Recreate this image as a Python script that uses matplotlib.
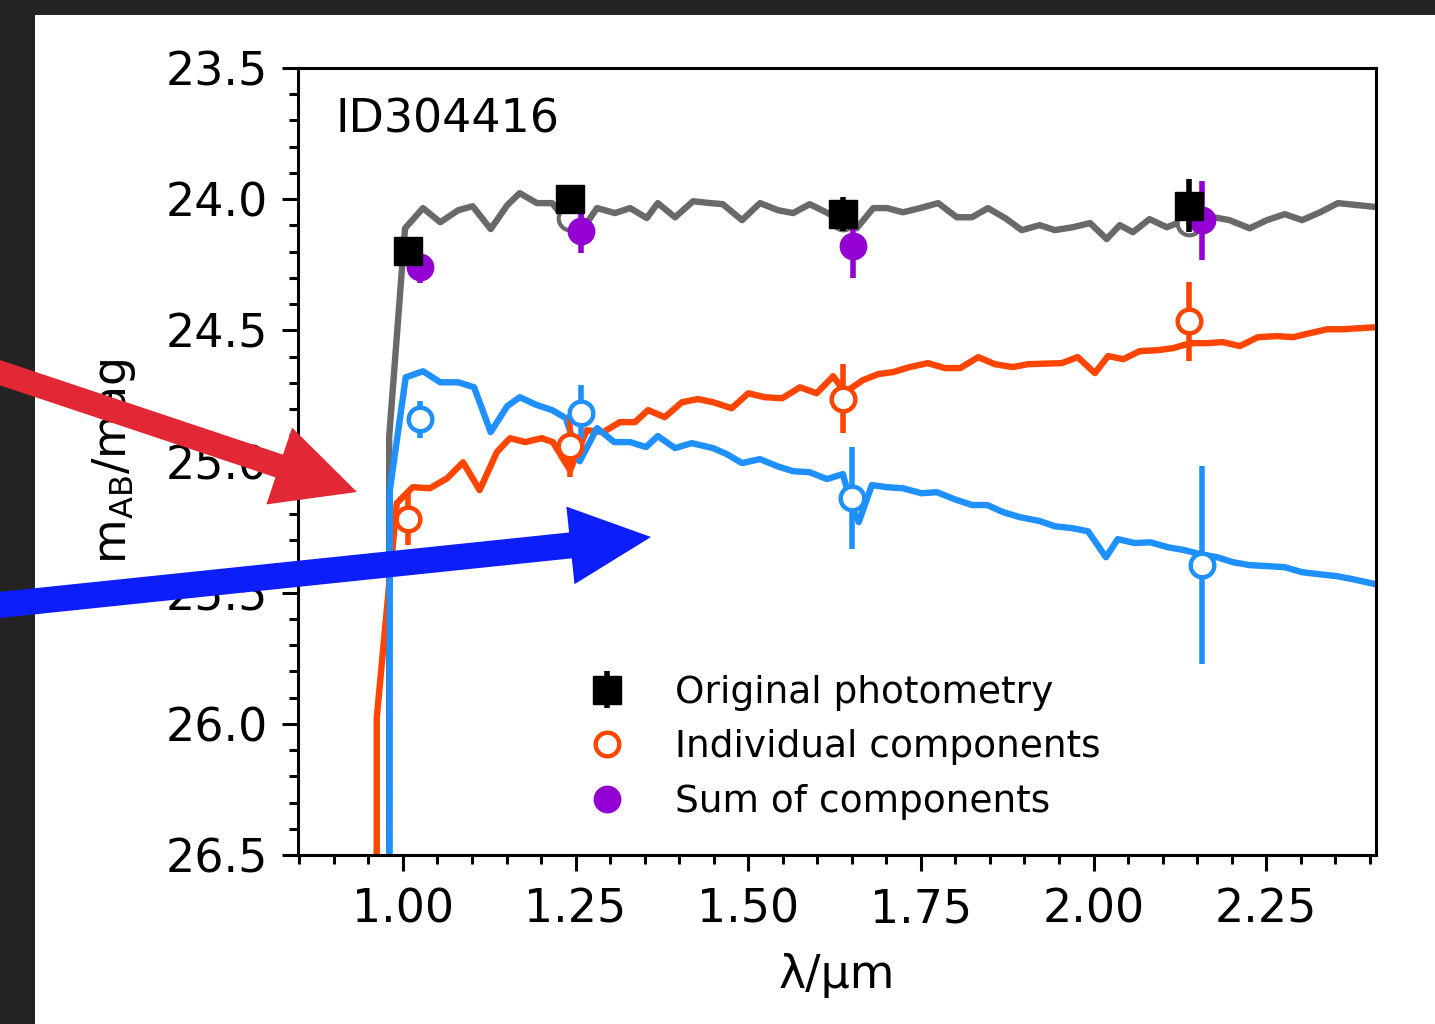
import matplotlib
matplotlib.use("Agg")
import matplotlib.pyplot as plt
from matplotlib.patches import Rectangle, FancyArrow
from matplotlib.lines import Line2D
from matplotlib.transforms import IdentityTransform

# model spectra (wavelength in micron, AB mag)
total_wl = [0.980, 0.980, 1.003, 1.029, 1.054, 1.080, 1.101, 1.127, 1.151, 1.169,
            1.194, 1.216, 1.230, 1.256, 1.281, 1.307, 1.329, 1.353, 1.369, 1.394,
            1.420, 1.445, 1.463, 1.491, 1.517, 1.543, 1.565, 1.589, 1.615, 1.657,
            1.681, 1.701, 1.724, 1.749, 1.775, 1.802, 1.824, 1.847, 1.872, 1.896,
            1.922, 1.944, 1.970, 1.995, 2.019, 2.038, 2.057, 2.081, 2.106, 2.125,
            2.147, 2.158, 2.197, 2.226, 2.251, 2.277, 2.302, 2.328, 2.354, 2.409]
total_mag = [28.0, 24.907, 24.111, 24.034, 24.088, 24.042, 24.027, 24.114, 24.023, 23.977,
             24.015, 24.015, 24.061, 24.130, 24.034, 24.053, 24.034, 24.072, 24.015, 24.069,
             24.008, 24.015, 24.019, 24.080, 24.015, 24.042, 24.053, 24.019, 24.053, 24.111,
             24.034, 24.034, 24.050, 24.034, 24.015, 24.069, 24.069, 24.034, 24.072, 24.118,
             24.099, 24.118, 24.107, 24.091, 24.152, 24.099, 24.126, 24.076, 24.107, 24.088,
             24.095, 24.061, 24.080, 24.111, 24.080, 24.057, 24.080, 24.050, 24.015, 24.030]

red_wl = [0.962, 0.962, 0.991, 1.014, 1.039, 1.064, 1.087, 1.111, 1.136, 1.155,
          1.177, 1.201, 1.217, 1.242, 1.266, 1.290, 1.314, 1.336, 1.355, 1.379,
          1.404, 1.427, 1.449, 1.476, 1.500, 1.524, 1.549, 1.575, 1.599, 1.623,
          1.640, 1.666, 1.688, 1.710, 1.734, 1.760, 1.785, 1.807, 1.833, 1.857,
          1.883, 1.905, 1.954, 1.977, 2.002, 2.021, 2.043, 2.067, 2.092, 2.115,
          2.140, 2.164, 2.187, 2.212, 2.238, 2.266, 2.289, 2.313, 2.338, 2.361, 2.409]
red_mag = [28.0, 25.978, 25.159, 25.098, 25.102, 25.064, 25.003, 25.109, 24.964, 24.911,
           24.926, 24.911, 24.926, 25.033, 24.881, 24.888, 24.850, 24.850, 24.804, 24.831,
           24.774, 24.762, 24.774, 24.797, 24.740, 24.755, 24.759, 24.717, 24.740, 24.675,
           24.736, 24.690, 24.667, 24.659, 24.640, 24.625, 24.644, 24.644, 24.602, 24.629,
           24.640, 24.629, 24.625, 24.602, 24.663, 24.598, 24.610, 24.579, 24.576, 24.568,
           24.549, 24.549, 24.545, 24.560, 24.526, 24.522, 24.526, 24.511, 24.496, 24.496, 24.488]

blue_wl = [0.980, 0.981, 1.004, 1.029, 1.054, 1.080, 1.103, 1.127, 1.151, 1.169,
           1.194, 1.216, 1.236, 1.256, 1.281, 1.306, 1.329, 1.352, 1.369, 1.394,
           1.418, 1.449, 1.469, 1.491, 1.517, 1.542, 1.565, 1.589, 1.614, 1.637,
           1.650, 1.660, 1.679, 1.701, 1.724, 1.751, 1.773, 1.799, 1.824, 1.846,
           1.869, 1.893, 1.922, 1.944, 1.969, 1.992, 2.018, 2.035, 2.060, 2.082,
           2.108, 2.132, 2.154, 2.179, 2.202, 2.226, 2.253, 2.277, 2.302, 2.328,
           2.352, 2.376, 2.409]
blue_mag = [28.0, 25.109, 24.679, 24.656, 24.698, 24.698, 24.717, 24.888, 24.789, 24.755,
            24.785, 24.804, 24.835, 24.999, 24.873, 24.926, 24.926, 24.945, 24.903, 24.949,
            24.930, 24.949, 24.972, 25.006, 24.991, 25.018, 25.037, 25.041, 25.067, 25.048,
            25.172, 25.231, 25.090, 25.098, 25.102, 25.121, 25.117, 25.144, 25.166, 25.166,
            25.193, 25.212, 25.227, 25.247, 25.254, 25.266, 25.365, 25.296, 25.311, 25.308,
            25.327, 25.338, 25.353, 25.365, 25.384, 25.395, 25.399, 25.403, 25.422, 25.430,
            25.437, 25.449, 25.468]

# photometry
phot_wl = [1.007, 1.242, 1.637, 2.138]
phot_mag = [24.198, 24.000, 24.057, 24.025]
phot_err = [0.03, 0.03, 0.065, 0.10]
model_phot_mag = [24.20, 24.07, 24.07, 24.09]

red_wl_pt = [1.007, 1.242, 1.637, 2.138]
red_pt = [25.22, 24.94, 24.76, 24.465]
red_err = [0.10, 0.12, 0.13, 0.15]

blue_wl_pt = [1.025, 1.258, 1.650, 2.157]
blue_pt = [24.839, 24.816, 25.14, 25.395]
blue_err = [0.07, 0.107, 0.195, 0.377]

sum_wl = [1.025, 1.258, 1.652, 2.157]
sum_pt = [24.259, 24.122, 24.179, 24.08]
sum_err = [0.06, 0.085, 0.12, 0.15]

c_total = "dimgray"
c_red = "orangered"
c_blue = "dodgerblue"
c_sum = "darkviolet"

plt.rcParams["mathtext.default"] = "regular"

fig = plt.figure(figsize=(14.35, 10.24), dpi=100, facecolor="#232323")
fig.patches.append(Rectangle((35 / 1435, 0), 1, 1 - 15 / 1024, transform=fig.transFigure,
                             facecolor="white", edgecolor="none", zorder=-10))
ax = fig.add_axes([298 / 1435, 169 / 1024, 1078 / 1435, 787 / 1024])

lw = 4.6
ax.plot(total_wl, total_mag, color=c_total, lw=lw, zorder=2)
ax.plot(red_wl, red_mag, color=c_red, lw=lw, zorder=2)
ax.plot(blue_wl, blue_mag, color=c_blue, lw=lw, zorder=2)

ax.plot(phot_wl, model_phot_mag, "o", ms=17, mfc="white", mec=c_total, mew=3, zorder=3)
ax.errorbar(red_wl_pt, red_pt, yerr=red_err, fmt="o", ms=17, mfc="white", mec=c_red,
            mew=3.2, ecolor=c_red, elinewidth=4, capsize=0, zorder=4)
ax.errorbar(blue_wl_pt, blue_pt, yerr=blue_err, fmt="o", ms=17, mfc="white", mec=c_blue,
            mew=3.2, ecolor=c_blue, elinewidth=4, capsize=0, zorder=4)
ax.errorbar(sum_wl, sum_pt, yerr=sum_err, fmt="o", ms=19, color=c_sum,
            elinewidth=4, capsize=0, zorder=5)
h_phot = ax.errorbar(phot_wl, phot_mag, yerr=phot_err, fmt="s", ms=20, color="black",
                     elinewidth=4, capsize=0, zorder=6)

ax.set_xlim(0.848, 2.409)
ax.set_ylim(26.5, 23.5)
ax.set_yticks([23.5, 24.0, 24.5, 25.0, 25.5, 26.0, 26.5])
ax.set_xticks([1.0, 1.25, 1.5, 1.75, 2.0, 2.25])
ax.minorticks_on()
ax.tick_params(which="major", length=11.5, width=2.2, labelsize=33)
ax.tick_params(axis="x", which="major", pad=12)
ax.tick_params(axis="y", which="major", pad=10)
ax.tick_params(which="minor", length=6.5, width=2.2)
for sp in ax.spines.values():
    sp.set_linewidth(2.2)

ax.set_xlabel("λ/µm", fontsize=33, labelpad=15)
ax.set_ylabel("m$_{AB}$/mag", fontsize=33, labelpad=20)
ax.text(0.035, 0.962, "ID304416", transform=ax.transAxes, fontsize=33, va="top")

h_red = Line2D([], [], ls="none", marker="o", ms=17, mfc="white", mec=c_red, mew=3.2)
h_sum = Line2D([], [], ls="none", marker="o", ms=19, color=c_sum)
ax.legend([h_phot, h_red, h_sum],
          ["Original photometry", "Individual components", "Sum of components"],
          loc="upper left", bbox_to_anchor=(0.221, 0.272), frameon=False, fontsize=27,
          handlelength=2.0, handletextpad=0.8, labelspacing=0.5)

# overlaid annotation arrows (display pixels)
fig.add_artist(FancyArrow(-20, 658, 377, -126, width=24, head_width=81, head_length=82,
                          length_includes_head=True, color="#E22834", lw=0,
                          transform=IdentityTransform(), zorder=10))
fig.add_artist(FancyArrow(-20, 417, 671, 70, width=26, head_width=78, head_length=81,
                          length_includes_head=True, color="#0C1EFA", lw=0,
                          transform=IdentityTransform(), zorder=10))

fig.savefig("out.png", dpi=100, facecolor=fig.get_facecolor())
